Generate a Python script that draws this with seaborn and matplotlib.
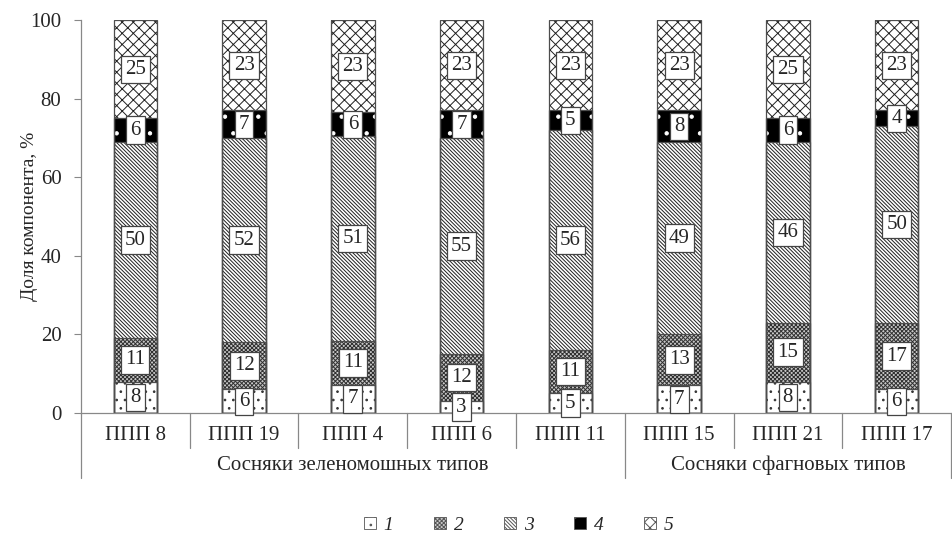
import numpy as np
import pandas as pd
import matplotlib
matplotlib.use("Agg")
import matplotlib.pyplot as plt
import seaborn as sns
from matplotlib.patches import Patch
from matplotlib.lines import Line2D

# plots and component shares (%), as labelled on the chart
plots = ["ППП 8", "ППП 19", "ППП 4", "ППП 6", "ППП 11", "ППП 15", "ППП 21", "ППП 17"]
comp_1 = [8, 6, 7, 3, 5, 7, 8, 6]
comp_2 = [11, 12, 11, 12, 11, 13, 15, 17]
comp_3 = [50, 52, 51, 55, 56, 49, 46, 50]
comp_4 = [6, 7, 6, 7, 5, 8, 6, 4]
comp_5 = [25, 23, 23, 23, 23, 23, 25, 23]
components = ["1", "2", "3", "4", "5"]
groups = ["Сосняки зеленомошных типов", "Сосняки сфагновых типов"]
group_sizes = [5, 3]

sns.set_style("white")
plt.rcParams["font.family"] = ["Liberation Serif", "DejaVu Serif"]
plt.rcParams["hatch.linewidth"] = 0.7

values = np.array([comp_1, comp_2, comp_3, comp_4, comp_5], dtype=float)
shares = values / values.sum(axis=0) * 100  # 100% stacked
cum = np.cumsum(shares, axis=0)

# face colour, hatch, hatch colour per component
styles = [
    ("white", "..", "#333333"),
    ("#c8c8c8", "xxxxxxxx", "#303030"),
    ("white", "\\\\\\\\\\\\\\\\\\", "#202020"),
    ("black", ".", "white"),
    ("white", "xxx", "#202020"),
]

fig = plt.figure(figsize=(9.52, 5.36), dpi=100)
ax = fig.add_axes([0.085, 0.2295, 0.914, 0.733])

# draw cumulative bars tallest first so each segment shows through
for k in range(len(components) - 1, -1, -1):
    face, hatch, hcol = styles[k]
    df = pd.DataFrame({"plot": plots, "top": cum[k]})
    sns.barplot(data=df, x="plot", y="top", color=face, saturation=1,
                errorbar=None, width=0.4, hatch=hatch, edgecolor=hcol,
                linewidth=0, ax=ax)
for k in range(len(components)):
    df = pd.DataFrame({"plot": plots, "top": cum[k]})
    sns.barplot(data=df, x="plot", y="top", fill=False, color="#4d4d4d",
                errorbar=None, width=0.4, linewidth=0.9, ax=ax)

# value boxes
for i in range(len(plots)):
    bottom = 0
    for k in range(len(components)):
        ax.text(i, bottom + shares[k, i] / 2, str(int(values[k, i])),
                ha="center", va="center", fontsize=15, zorder=5,
                bbox=dict(boxstyle="square,pad=0.2", fc="white",
                          ec="#444444", lw=0.9))
        bottom += shares[k, i]

ax.set_xlim(-0.5, len(plots) - 0.5)
ax.set_ylim(0, 100)
ax.set_yticks(range(0, 101, 20))
ax.tick_params(axis="y", labelsize=15, length=5, color="#888888",
               direction="out", left=True, pad=9)
ax.set_xticks([])
ax.set_xlabel("")
ax.set_ylabel("Доля компонента, %", fontsize=14)
ax.yaxis.set_label_coords(-0.049, 0.5)
for s in ["top", "right"]:
    ax.spines[s].set_visible(False)
for s in ["left", "bottom"]:
    ax.spines[s].set_color("#888888")
    ax.spines[s].set_linewidth(0.9)

# multi-level category axis
trans = ax.get_xaxis_transform()
for i, name in enumerate(plots):
    ax.text(i, -0.058, name, transform=trans, ha="center", va="center",
            fontsize=15)
edges = np.cumsum([0] + group_sizes) - 0.5
for b in np.arange(-0.5, len(plots), 1.0):
    low = -0.165 if b in edges else -0.089
    ax.add_line(Line2D([b, b], [0, low], transform=trans, color="#888888",
                       lw=0.9, clip_on=False))
for g, name in enumerate(groups):
    centre = (edges[g] + edges[g + 1]) / 2
    ax.text(centre, -0.134, name, transform=trans, ha="center",
            va="center", fontsize=15)

# legend
handles = [Patch(facecolor=f, hatch=h, edgecolor="#555555", linewidth=0.6)
           for f, h, _ in styles]
fig.legend(handles, components, loc="center", bbox_to_anchor=(0.545, 0.02),
           ncol=5, frameon=False, handlelength=0.6, handleheight=0.6,
           handletextpad=0.4, columnspacing=2.1,
           prop={"style": "italic", "size": 14})

fig.savefig("out.png", dpi=100)
